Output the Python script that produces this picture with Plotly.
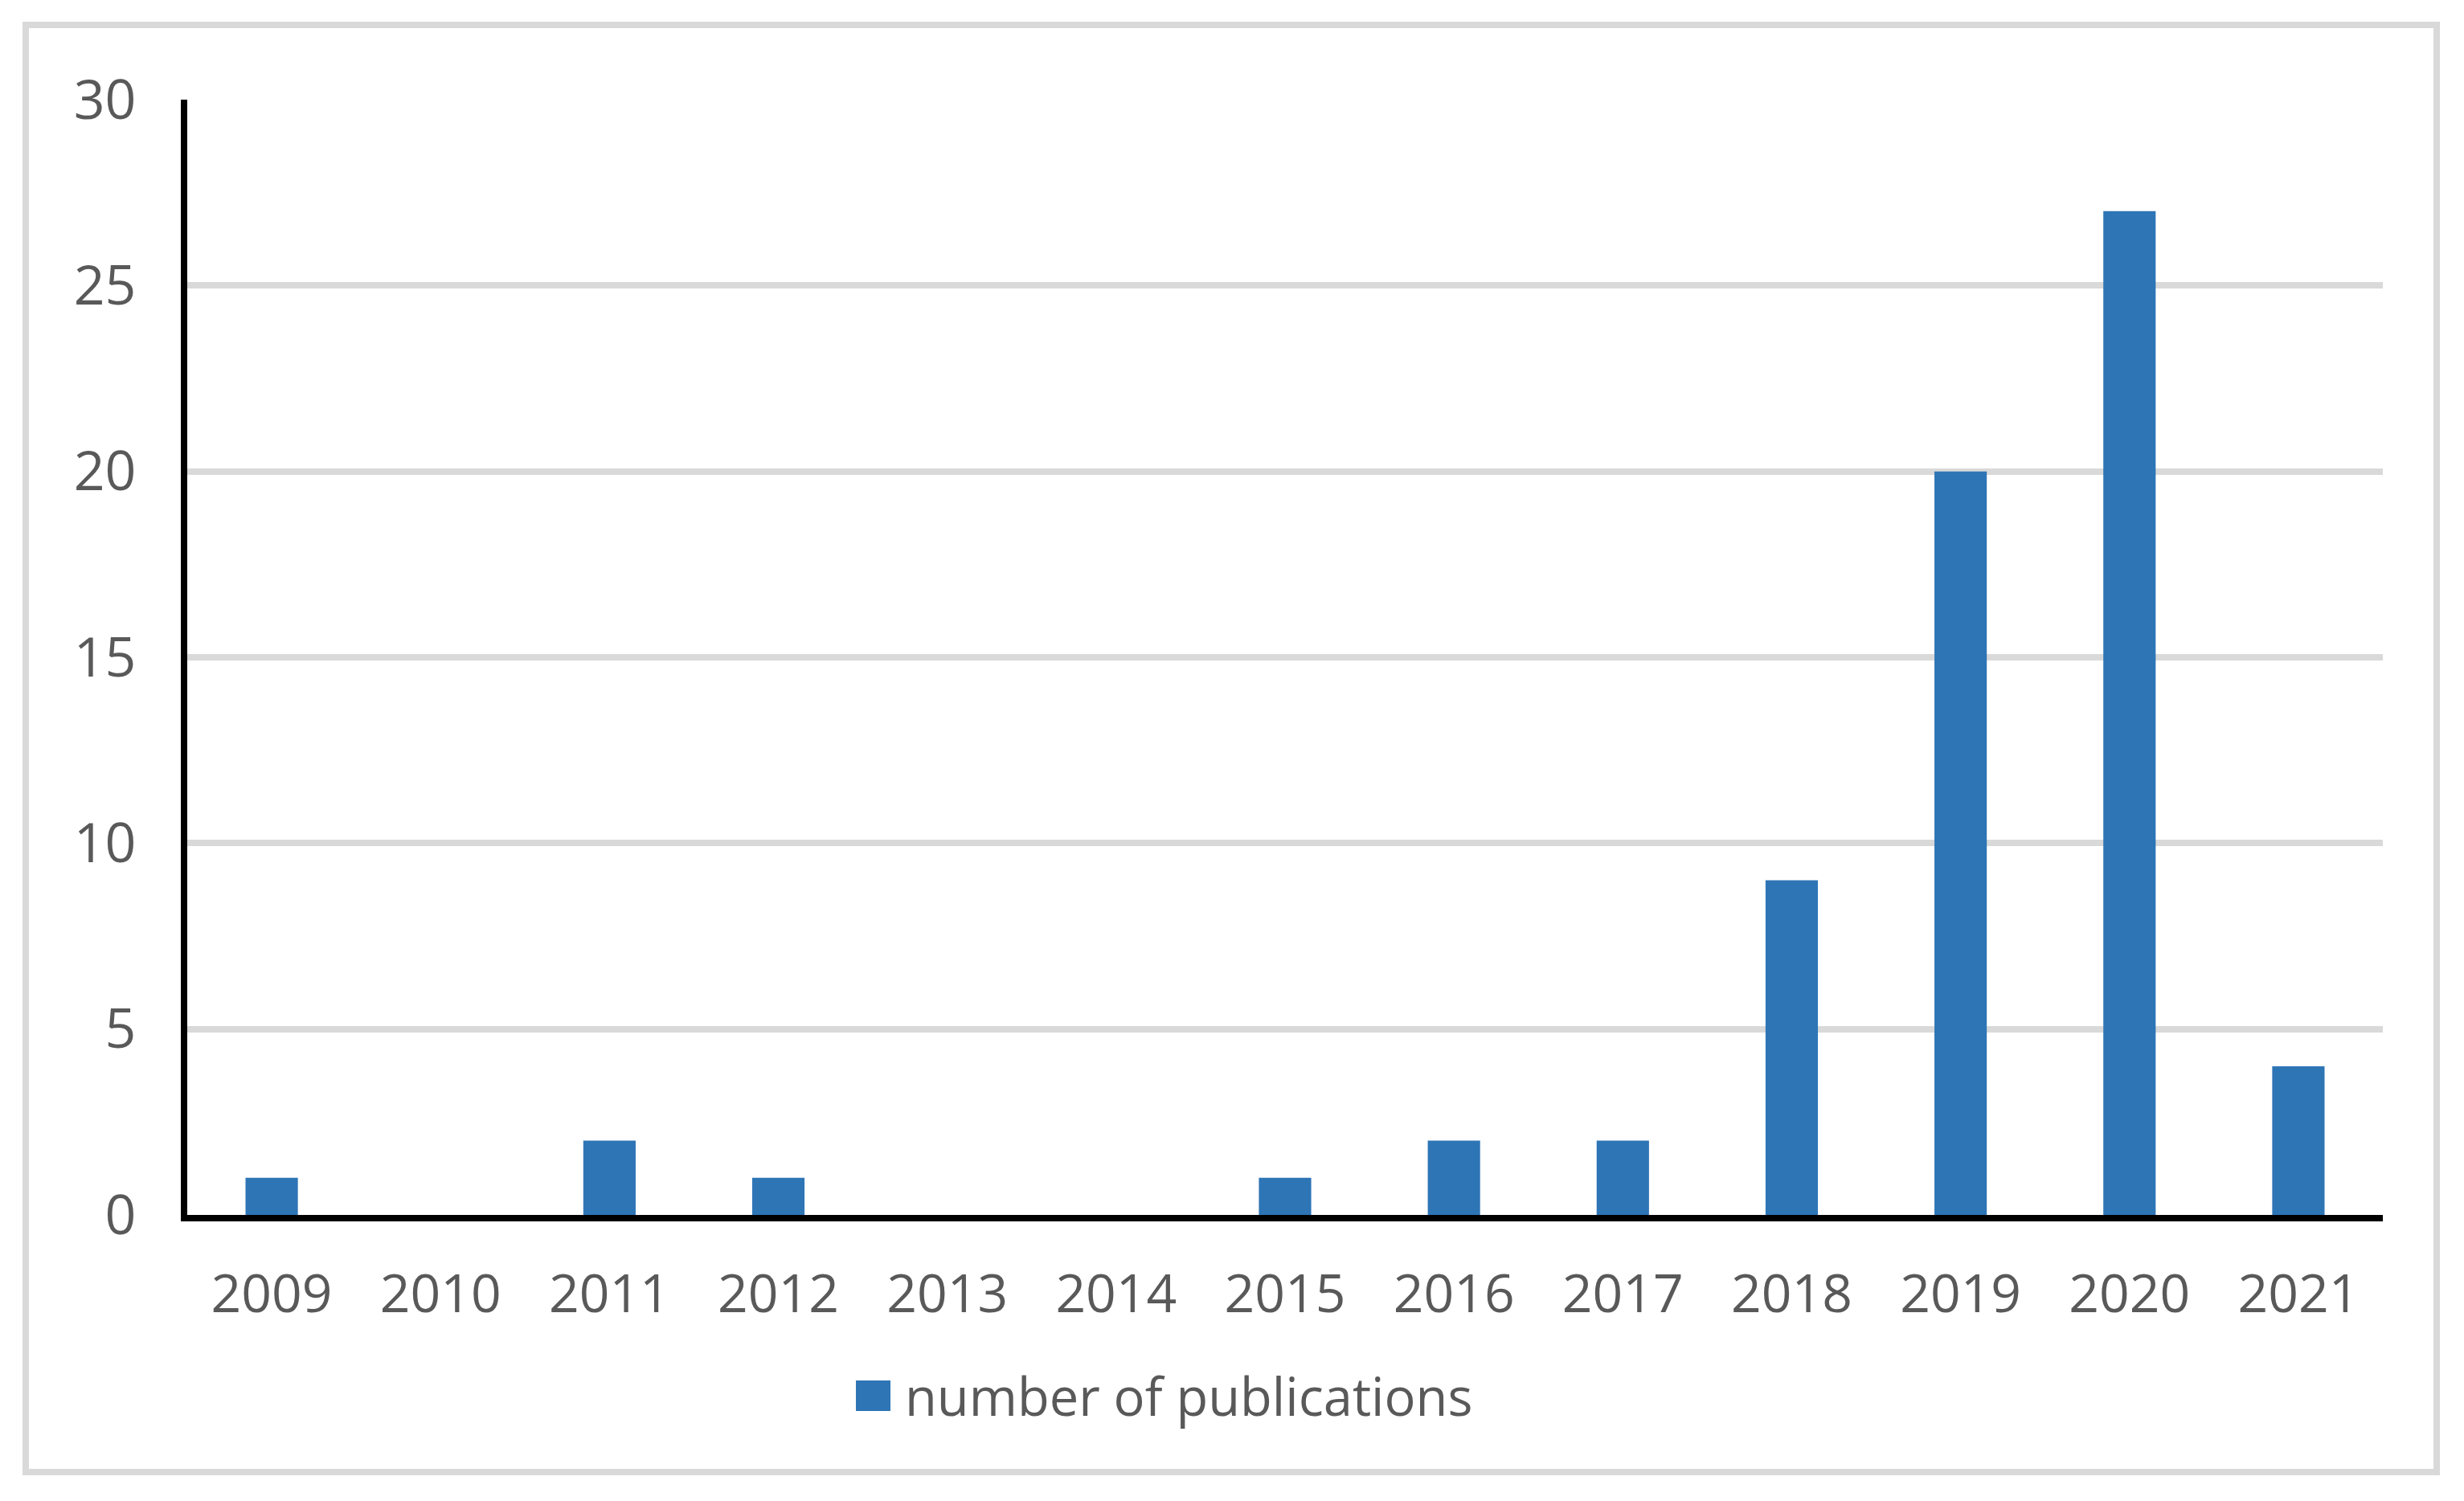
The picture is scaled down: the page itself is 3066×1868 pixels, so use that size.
import plotly.graph_objects as go

years = ["2009", "2010", "2011", "2012", "2013", "2014", "2015",
         "2016", "2017", "2018", "2019", "2020", "2021"]
publications = [1, 0, 2, 1, 0, 0, 1, 2, 2, 9, 20, 27, 4]
y_ticks = [0, 5, 10, 15, 20, 25, 30]
series_name = "number of publications"

# page body has an 8px default margin, so the figure is offset by 8px
OFF = 8
W, H = 3066 - 2 * OFF, 1868 - 2 * OFF
L, R, T, B = 233 - OFF, 2965 - OFF, 124 - OFF, 1512 - OFF
pw, ph = R - L, B - T

def px_x(x):
    return (x - OFF - L) / pw

def px_y(y):
    return (B - (y - OFF)) / ph

BAR = "#2E75B6"
TXT = "#595959"
GRID = "#D9D9D9"
FONT = "Open Sans"

fig = go.Figure()
fig.add_trace(go.Bar(x=years, y=publications, name=series_name,
                     marker=dict(color=BAR, line=dict(width=0)),
                     showlegend=False))

fig.update_layout(
    width=W, height=H,
    margin=dict(l=L, r=W - R, t=T, b=H - B, autoexpand=False),
    paper_bgcolor="white", plot_bgcolor="white",
    bargap=0.69,
    font=dict(family=FONT, size=66, color=TXT),
    showlegend=False,
)
fig.update_xaxes(type="category", categoryorder="array", categoryarray=years,
                 showline=True, linecolor="black", linewidth=8,
                 showgrid=False, ticks="outside", ticklen=34,
                 tickcolor="rgba(0,0,0,0)",
                 tickfont=dict(family=FONT, size=66, color=TXT))
fig.update_yaxes(range=[0, 30], tickvals=y_ticks,
                 showline=True, linecolor="black", linewidth=8,
                 showgrid=True, gridcolor=GRID, gridwidth=8,
                 zeroline=False, ticks="outside", ticklen=42,
                 tickcolor="rgba(0,0,0,0)",
                 tickfont=dict(family=FONT, size=68, color=TXT))

# outer chart border
fig.add_shape(type="rect", xref="paper", yref="paper",
              x0=px_x(32), x1=px_x(3032), y0=px_y(1832), y1=px_y(31),
              line=dict(color=GRID, width=8), fillcolor="rgba(0,0,0,0)",
              layer="below")

# legend (square key + label)
fig.add_shape(type="rect", xref="paper", yref="paper",
              x0=px_x(1065), x1=px_x(1108), y0=px_y(1756), y1=px_y(1718),
              line=dict(width=0), fillcolor=BAR)
fig.add_annotation(xref="paper", yref="paper", x=px_x(1124), y=px_y(1737),
                   xanchor="left", yanchor="middle", showarrow=False,
                   text=series_name,
                   font=dict(family=FONT, size=65, color=TXT))

fig.write_html("out.html")
